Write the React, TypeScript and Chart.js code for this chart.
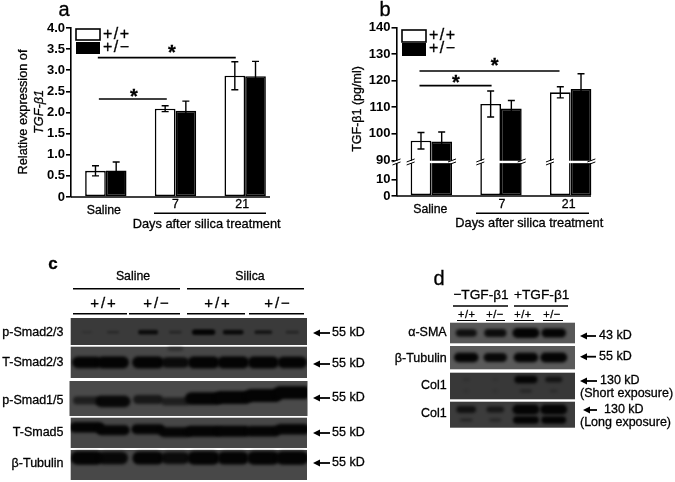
import React, { useEffect, useRef } from "react";
import { Chart, registerables, LinearScale } from "chart.js";

const FONT = '"Liberation Sans", Arial, sans-serif';
const W = 675;
const H = 482;

// Panel a
const groupLabels = ["Saline", "7", "21"];
const seriesNames = ["+/+", "+/−"];
const aWild = [0.62, 2.09, 2.87];
const aHet = [0.63, 2.04, 2.86];
const aWildErr = [0.12, 0.07, 0.33];
const aHetErr = [0.2, 0.23, 0.35];
const aTicks = ["0", "0.5", "1.0", "1.5", "2.0", "2.5", "3.0", "3.5", "4.0"];
// Panel b
const bWild = [97.4, 111.2, 115.6];
const bHet = [97.1, 109.5, 116.8];
const bWildErr = [3.1, 4.9, 2.1];
const bHetErr = [3.6, 3, 5.8];
const bTicks = [0, 10, 90, 100, 110, 120, 130, 140];
// Panel c: band strength by lane
const cRowNames = ["p-Smad2/3", "T-Smad2/3", "p-Smad1/5", "T-Smad5", "β-Tubulin"];
const pSmad23 = [0.1, 0.25, 0.75, 0.28, 0.95, 0.8, 0.6, 0.3];
const tSmad23 = [0.9, 1, 1, 0.8, 1, 1, 0.97, 0.9];
const pSmad15 = [0.5, 0.85, 0.6, 0.5, 0.97, 1, 1, 1];
const tSmad5 = [0.95, 0.9, 0.9, 0.88, 1, 0.97, 0.92, 0.95];
const cTubulin = [0.95, 0.85, 0.9, 0.8, 0.95, 0.9, 0.95, 0.97];
// Panel d: band strength by lane
const dRowNames = ["α-SMA", "β-Tubulin", "Col1", "Col1"];
const aSma = [0.75, 0.8, 1, 0.9];
const dTubulin = [0.9, 0.85, 0.9, 1];
const col1Short = [0.07, 0.04, 0.9, 0.6];
const col1ShortLow = [0.03, 0.03, 0.35, 0.14];
const col1Long = [0.65, 0.55, 1, 1];
const col1LongLow = [0.3, 0.28, 0.95, 0.9];

type Txt = [string, number, number, string?, CanvasTextAlign?, number?, number?];

function drawTexts(ctx: CanvasRenderingContext2D, items: Txt[]) {
  ctx.save();
  ctx.fillStyle = "#000";
  ctx.strokeStyle = "#000";
  ctx.lineWidth = 0.3;
  ctx.textBaseline = "middle";
  for (const [s, x, y, f, a, rot, sp] of items) {
    ctx.save();
    ctx.translate(x, y);
    if (rot) ctx.rotate(rot);
    ctx.font = f || `12.3px ${FONT}`;
    ctx.textAlign = a || "center";
    (ctx as any).letterSpacing = `${sp || 0}px`;
    ctx.fillText(s, 0, 0);
    ctx.strokeText(s, 0, 0);
    ctx.restore();
  }
  ctx.restore();
}

function hline(ctx: CanvasRenderingContext2D, x1: number, x2: number, y: number, lw = 1.5) {
  ctx.save();
  ctx.strokeStyle = "#000";
  ctx.lineWidth = lw;
  ctx.beginPath();
  ctx.moveTo(x1, y);
  ctx.lineTo(x2, y);
  ctx.stroke();
  ctx.restore();
}

function arrow(ctx: CanvasRenderingContext2D, x1: number, x2: number, y: number) {
  hline(ctx, x1 + 4, x2, y, 1.8);
  ctx.save();
  ctx.fillStyle = "#000";
  ctx.beginPath();
  ctx.moveTo(x1, y);
  ctx.lineTo(x1 + 7, y - 3.5);
  ctx.lineTo(x1 + 7, y + 3.5);
  ctx.closePath();
  ctx.fill();
  ctx.restore();
}

function legendBoxes(ctx: CanvasRenderingContext2D, x: number, y1: number, y2: number, h1: number, h2: number) {
  ctx.save();
  ctx.fillStyle = "#fff";
  ctx.strokeStyle = "#000";
  ctx.lineWidth = 1.6;
  ctx.fillRect(x, y1, 24, h1);
  ctx.strokeRect(x, y1, 24, h1);
  ctx.fillStyle = "#000";
  ctx.fillRect(x, y2, 24, h2);
  ctx.restore();
  drawTexts(ctx, [
    [seriesNames[0], x + 27, y1 + 5.5, `16px ${FONT}`, "left", 0, 1.5],
    [seriesNames[1], x + 27, y2 + 5.5, `16px ${FONT}`, "left", 0, 1.5],
  ]);
}

function errorBars(chart: any, errs: number[][]) {
  const { ctx } = chart;
  const ys = chart.scales.y;
  ctx.save();
  ctx.strokeStyle = "#000";
  ctx.lineWidth = 1.4;
  errs.forEach((list, d) => {
    const meta = chart.getDatasetMeta(d);
    const vals = chart.data.datasets[d].data;
    list.forEach((e, i) => {
      const x = meta.data[i].x;
      const top = ys.getPixelForValue(vals[i] + e);
      const bot = ys.getPixelForValue(vals[i] - e);
      ctx.beginPath();
      ctx.moveTo(x, top);
      ctx.lineTo(x, bot);
      ctx.moveTo(x - 3.5, top);
      ctx.lineTo(x + 3.5, top);
      ctx.moveTo(x - 3.5, bot);
      ctx.lineTo(x + 3.5, bot);
      ctx.stroke();
    });
  });
  ctx.restore();
}

function sigLine(chart: any, a: number, b: number, v: number) {
  const x = chart.scales.x;
  const y = chart.scales.y;
  hline(chart.ctx, x.getPixelForValue(a), x.getPixelForValue(b), y.getPixelForValue(v), 1.6);
}

class BrokenScale extends (LinearScale as any) {
  static id = "broken";
  static defaults = (LinearScale as any).defaults;
  getPixelForValue(v: number) {
    let f: number;
    if (v <= 20) f = (v / 20) * 0.196;
    else if (v < 90) f = 0.196 + ((v - 20) / 70) * 0.015;
    else f = 0.211 + ((v - 90) / 50) * 0.789;
    return (this as any).getPixelForDecimal(f);
  }
}

Chart.register(...registerables, BrokenScale as any);

function barDatasets(w: number[], h: number[]) {
  return [
    { label: seriesNames[0], data: w, backgroundColor: "#fff", borderColor: "#000", borderWidth: 1.6, borderSkipped: false },
    { label: seriesNames[1], data: h, backgroundColor: "#000", borderColor: "#000", borderWidth: 1.6, borderSkipped: false },
  ];
}

function baseOptions(pad: any) {
  return {
    responsive: false,
    animation: false,
    events: [],
    layout: { padding: pad },
    plugins: { legend: { display: false }, tooltip: { enabled: false } },
  };
}

const Y_W = 40;

function yAxis(extra: any) {
  return {
    position: "left",
    afterFit: (s: any) => {
      s.width = Y_W;
    },
    border: { color: "#000", width: 1.6 },
    grid: { drawOnChartArea: false, drawTicks: true, tickLength: 5, tickColor: "#000", lineWidth: 1.6 },
    ...extra,
  };
}

const hiddenX = {
  type: "category",
  display: false,
  offset: true,
  grid: { display: false },
};

function chartA(canvas: HTMLCanvasElement) {
  return new Chart(canvas, {
    type: "bar",
    data: { labels: groupLabels, datasets: barDatasets(aWild, aHet) as any },
    options: {
      ...baseOptions({ left: 71 - Y_W, top: 28, right: W - 280, bottom: H - 197 }),
      datasets: { bar: { categoryPercentage: 0.594, barPercentage: 1 } },
      scales: {
        x: hiddenX,
        y: yAxis({
          min: 0,
          max: 4,
          ticks: {
            stepSize: 0.5,
            color: "#000",
            padding: 1,
            font: { family: FONT, size: 13, weight: "bold" },
            callback: (_v: any, i: number) => aTicks[i],
          },
        }),
      },
    } as any,
    plugins: [
      {
        id: "panelA",
        afterDatasetsDraw(chart: any) {
          const { ctx } = chart;
          const x = chart.scales.x;
          errorBars(chart, [aWildErr, aHetErr]);
          hline(ctx, chart.chartArea.left, 270, chart.chartArea.bottom, 1.6);
          sigLine(chart, -0.115, 1.865, 3.3);
          sigLine(chart, -0.1, 0.875, 2.32);
          hline(ctx, 154, 266, 213.3, 1.5);
          legendBoxes(ctx, 76, 29, 42, 11, 12);
          drawTexts(ctx, [
            ["a", 64, 10, `20px ${FONT}`],
            ["Relative expression of", 23, 112, `12.7px ${FONT}`, "center", -Math.PI / 2],
            ["TGF-β1", 39, 112, `italic 12.7px ${FONT}`, "center", -Math.PI / 2],
            [groupLabels[0], x.getPixelForValue(0) - 2, 211],
            [groupLabels[1], x.getPixelForValue(1), 205],
            [groupLabels[2], x.getPixelForValue(2) - 3, 205],
            ["Days after silica treatment", 206.7, 224, `12.8px ${FONT}`],
            ["*", 172, 53, `bold 20px ${FONT}`],
            ["*", 134, 97, `bold 20px ${FONT}`],
          ]);
        },
      },
    ],
  });
}

function chartB(canvas: HTMLCanvasElement) {
  return new Chart(canvas, {
    type: "bar",
    data: { labels: groupLabels, datasets: barDatasets(bWild, bHet) as any },
    options: {
      ...baseOptions({ left: 396.5 - Y_W, top: 27.4, right: W - 605.5, bottom: H - 196 }),
      datasets: { bar: { categoryPercentage: 0.594, barPercentage: 1 } },
      scales: {
        x: hiddenX,
        y: yAxis({
          type: "broken",
          min: 0,
          max: 140,
          afterBuildTicks: (s: any) => {
            s.ticks = bTicks.map((value) => ({ value }));
          },
          ticks: {
            autoSkip: false,
            color: "#000",
            padding: 1,
            font: { family: FONT, size: 13, weight: "bold" },
            callback: (v: any) => String(v),
          },
        }),
      },
    } as any,
    plugins: [
      {
        id: "panelB",
        afterDatasetsDraw(chart: any) {
          const { ctx } = chart;
          const x = chart.scales.x;
          const y = chart.scales.y;
          errorBars(chart, [bWildErr, bHetErr]);
          hline(ctx, chart.chartArea.left, 591, chart.chartArea.bottom, 1.6);
          // axis break
          const by = y.getPixelForValue(20) - 1;
          ctx.save();
          ctx.fillStyle = "#fff";
          ctx.fillRect(394, by - 1.2, 198.5, 2.4);
          ctx.strokeStyle = "#000";
          ctx.lineWidth = 1;
          const metaW = chart.getDatasetMeta(0).data;
          const metaH = chart.getDatasetMeta(1).data;
          const marks = [
            chart.chartArea.left,
            ...metaW.map((b: any) => b.x - b.width / 2),
            ...metaH.map((b: any) => b.x + b.width / 2),
          ];
          for (const m of marks) {
            for (const d of [-1.5, 1.5]) {
              ctx.beginPath();
              ctx.moveTo(m - 4, by + d + 1.5);
              ctx.lineTo(m + 4, by + d - 1.5);
              ctx.stroke();
            }
          }
          ctx.restore();
          sigLine(chart, -0.17, 1.84, 123.6);
          sigLine(chart, -0.17, 0.865, 118.1);
          hline(ctx, 476, 589, 213.3, 1.5);
          legendBoxes(ctx, 402, 30, 43, 12, 13);
          drawTexts(ctx, [
            ["b", 385, 10, `20px ${FONT}`],
            ["TGF-β1 (pg/ml)", 358, 109, `12.5px ${FONT}`, "center", -Math.PI / 2],
            [groupLabels[0], x.getPixelForValue(0) - 1, 210],
            [groupLabels[1], x.getPixelForValue(1) + 1, 205],
            [groupLabels[2], x.getPixelForValue(2) - 2, 205],
            ["Days after silica treatment", 529.3, 223, `12.8px ${FONT}`],
            ["*", 494.7, 66, `bold 20px ${FONT}`],
            ["*", 456, 83, `bold 20px ${FONT}`],
          ]);
        },
      },
    ],
  });
}

const bandCache = new Map<string, HTMLCanvasElement>();
function bandImage(w: number, h: number, a: number, blur: number) {
  const key = `${w}|${h}|${a}|${blur}`;
  const hit = bandCache.get(key);
  if (hit) return hit;
  const c = document.createElement("canvas");
  const m = 10;
  c.width = Math.ceil(w + m * 2);
  c.height = Math.ceil(h + m * 2);
  const g = c.getContext("2d")!;
  g.filter = `blur(${blur}px)`;
  g.fillStyle = `rgba(4,4,4,${a})`;
  g.beginPath();
  (g as any).roundRect(c.width / 2 - w / 2, c.height / 2 - h / 2, w, h, h / 2);
  g.fill();
  bandCache.set(key, c);
  return c;
}

type Row = {
  vals: number[];
  drift?: number[];
  cy: number;
  minW: number;
  addW: number;
  minH: number;
  addH: number;
  blur?: number;
};

function rowDataset(row: Row, lanes: number[]) {
  const styles = row.vals.map((v) =>
    bandImage(row.minW + row.addW * v, row.minH + row.addH * v, Math.min(1, 0.12 + v * 0.98), row.blur || 1.6)
  );
  return {
    data: row.vals.map((_v, i) => ({ x: lanes[i], y: row.cy + (row.drift ? row.drift[i] : 0) })),
    pointStyle: styles,
    pointRadius: 5,
    showLine: false,
    clip: 0,
  };
}

const cLanes = [0.55, 1.43, 2.62, 3.54, 4.5, 5.5, 6.52, 7.5];
const cPanels = [
  { top: 318, bottom: 345, left: 70.7, right: 307, color: "#3a3a3a" },
  { top: 346.7, bottom: 378, left: 70.7, right: 307, color: "#474747" },
  { top: 381, bottom: 416, left: 69.5, right: 307.5, color: "#4a4a4a" },
  { top: 417.7, bottom: 448, left: 70.7, right: 307, color: "#474747" },
  { top: 450, bottom: 480, left: 70.7, right: 307, color: "#484848" },
];
const cArrows = [333, 364, 398, 433, 463];
const cLabelYs = [333, 362.7, 400.7, 432.7, 464];

function chartC(canvas: HTMLCanvasElement) {
  const rows: Row[] = [
    { vals: pSmad23, cy: 332.5, minW: 8, addW: 16, minH: 1, addH: 4.5, blur: 1.1 },
    { vals: tSmad23, cy: 363.5, minW: 10, addW: 22, minH: 5, addH: 7 },
    { vals: pSmad15, drift: [2, 3, 1, 3, 0, -1, -3, -6], cy: 400.5, minW: 18, addW: 20, minH: 3, addH: 10 },
    { vals: tSmad5, drift: [-2, 1, 0, 3, 2, 2, 2, 0], cy: 432, minW: 12, addW: 24, minH: 3, addH: 8 },
    { vals: cTubulin, cy: 461.5, minW: 8, addW: 26, minH: 5, addH: 9 },
  ];
  const extra = { vals: [0.25], cy: 349.5, minW: 14, addW: 6, minH: 3, addH: 3 };
  return new Chart(canvas, {
    type: "scatter",
    data: {
      datasets: [...rows.map((r) => rowDataset(r, cLanes)), rowDataset(extra, [cLanes[3]])] as any,
    },
    options: {
      ...baseOptions({ left: 70.7, top: 318, right: W - 307, bottom: H - 480 }),
      scales: {
        x: { type: "linear", display: false, min: 0, max: 8 },
        y: { type: "linear", display: false, min: 318, max: 480, reverse: true },
      },
    } as any,
    plugins: [
      {
        id: "panelC",
        beforeDatasetsDraw(chart: any) {
          const { ctx } = chart;
          ctx.save();
          for (const p of cPanels) {
            ctx.fillStyle = p.color;
            ctx.fillRect(p.left, p.top, p.right - p.left, p.bottom - p.top);
          }
          ctx.restore();
        },
        afterDatasetsDraw(chart: any) {
          const { ctx } = chart;
          hline(ctx, 73, 180, 288.7, 1.6);
          hline(ctx, 187, 304, 288.7, 1.6);
          for (const [a, b] of [[73, 127], [129, 180], [187, 245], [249, 304]]) hline(ctx, a, b, 313.7, 1.6);
          cArrows.forEach((y) => arrow(ctx, 313, 330, y));
          const big = `15px ${FONT}`;
          drawTexts(ctx, [
            ["c", 53, 264, `bold 17px ${FONT}`],
            ["Saline", 133, 277],
            ["Silica", 250, 277],
            [seriesNames[0], 104, 304, big, "center", 0, 2],
            [seriesNames[1], 157, 304, big, "center", 0, 2],
            [seriesNames[0], 218, 304, big, "center", 0, 2],
            [seriesNames[1], 278, 304, big, "center", 0, 2],
            ...cRowNames.map((s, i): Txt => [s, 63.5, cLabelYs[i], `12.5px ${FONT}`, "right"]),
            ...cArrows.map((y): Txt => ["55 kD", 332, y, `12.5px ${FONT}`, "left"]),
          ]);
        },
      },
    ],
  });
}

const dLanes = [0.52, 1.45, 2.43, 3.32];
const dPanels = [
  { top: 322.7, bottom: 343.3, color: "#585858" },
  { top: 346, bottom: 369.3, color: "#5a5a5a" },
  { top: 372.7, bottom: 399.3, color: "#383838" },
  { top: 401.7, bottom: 427.7, color: "#3c3c3c" },
];
const dLabelYs = [332.7, 359, 386, 414];

function chartD(canvas: HTMLCanvasElement) {
  const rows: Row[] = [
    { vals: aSma, cy: 333, minW: 3, addW: 24, minH: 0, addH: 10 },
    { vals: dTubulin, cy: 357.5, minW: 3, addW: 24, minH: 3, addH: 7 },
    { vals: col1Short, cy: 379.5, minW: 5, addW: 20, minH: 2, addH: 6 },
    { vals: col1ShortLow, cy: 391, minW: 5, addW: 19, minH: 2, addH: 2 },
    { vals: col1Long, cy: 409.5, minW: 6, addW: 21, minH: 1, addH: 9 },
    { vals: col1LongLow, cy: 420, minW: 6, addW: 21, minH: 1, addH: 7 },
  ];
  return new Chart(canvas, {
    type: "scatter",
    data: { datasets: rows.map((r) => rowDataset(r, dLanes)) as any },
    options: {
      ...baseOptions({ left: 450, top: 322.7, right: W - 575, bottom: H - 427.7 }),
      scales: {
        x: { type: "linear", display: false, min: 0, max: 4 },
        y: { type: "linear", display: false, min: 322.7, max: 427.7, reverse: true },
      },
    } as any,
    plugins: [
      {
        id: "panelD",
        beforeDatasetsDraw(chart: any) {
          const { ctx } = chart;
          ctx.save();
          for (const p of dPanels) {
            ctx.fillStyle = p.color;
            ctx.fillRect(450, p.top, 125, p.bottom - p.top);
          }
          ctx.restore();
        },
        afterDatasetsDraw(chart: any) {
          const { ctx } = chart;
          hline(ctx, 453, 508, 306, 1.5);
          hline(ctx, 514, 568, 306, 1.5);
          hline(ctx, 457, 477, 320.5, 1);
          hline(ctx, 486, 505, 320.5, 1);
          hline(ctx, 514, 534, 320.5, 1);
          hline(ctx, 543, 563, 320.5, 1);
          arrow(ctx, 580, 596, 336);
          arrow(ctx, 580, 596, 356.7);
          arrow(ctx, 580, 597, 381);
          arrow(ctx, 583, 597, 410);
          const f = `12.5px ${FONT}`;
          const h = `13.7px ${FONT}`;
          const s = `11px ${FONT}`;
          drawTexts(ctx, [
            ["d", 439, 279, `20px ${FONT}`],
            ["−TGF-β1", 481, 295.7, h],
            ["+TGF-β1", 541.7, 295.7, h],
            [seriesNames[0], 466.7, 315, s, "center", 0, 0.5],
            [seriesNames[1], 495, 315, s, "center", 0, 0.5],
            [seriesNames[0], 523, 315, s, "center", 0, 0.5],
            [seriesNames[1], 552, 315, s, "center", 0, 0.5],
            ...dRowNames.map((n, i): Txt => [n, 446.7, dLabelYs[i], f, "right"]),
            ["43 kD", 599, 336, f, "left"],
            ["55 kD", 599, 356.7, f, "left"],
            ["130 kD", 600, 381, f, "left"],
            ["(Short exposure)", 580, 393.5, f, "left"],
            ["130 kD", 604, 410, f, "left"],
            ["(Long exposure)", 580, 423, f, "left"],
          ]);
        },
      },
    ],
  });
}

const canvasStyle: React.CSSProperties = { position: "absolute", left: 0, top: 0, filter: "blur(0.4px)" };

export default function App() {
  const a = useRef<HTMLCanvasElement>(null);
  const b = useRef<HTMLCanvasElement>(null);
  const c = useRef<HTMLCanvasElement>(null);
  const d = useRef<HTMLCanvasElement>(null);
  useEffect(() => {
    document.body.style.margin = "0";
    document.body.style.background = "#fff";
    const charts = [chartA(a.current!), chartB(b.current!), chartC(c.current!), chartD(d.current!)];
    return () => charts.forEach((ch) => ch.destroy());
  }, []);
  return (
    <div style={{ position: "relative", width: W, height: H, overflow: "hidden", background: "#fff" }}>
      <canvas ref={a} width={W} height={H} style={canvasStyle} />
      <canvas ref={b} width={W} height={H} style={canvasStyle} />
      <canvas ref={c} width={W} height={H} style={canvasStyle} />
      <canvas ref={d} width={W} height={H} style={canvasStyle} />
    </div>
  );
}
